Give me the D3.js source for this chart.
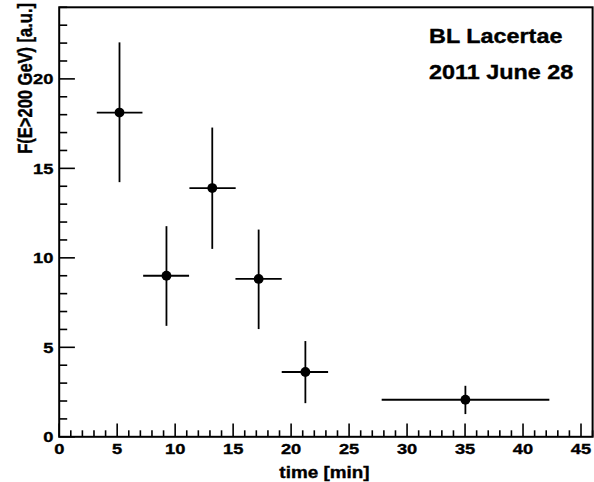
<!DOCTYPE html>
<html><head><meta charset="utf-8">
<script src="https://cdn.jsdelivr.net/npm/d3@7"></script>
<style>
html,body{margin:0;padding:0;background:#fff;}
svg{display:block;}
text{font-family:"Liberation Sans",Arial,Helvetica,sans-serif;font-weight:bold;fill:#000;stroke:#000;stroke-width:0.35px;}
</style></head>
<body>
<svg id="chart" width="594" height="482"></svg>
<script>
// Data
const time     = [5.2, 9.25, 13.2, 17.2, 21.23, 35.03];
const timeLow  = [3.24, 7.24, 11.23, 15.2, 19.19, 27.81];
const timeHigh = [7.18, 11.2, 15.22, 19.19, 23.19, 42.27];
const flux     = [18.12, 9.0, 13.9, 8.82, 3.62, 2.07];
const fluxLow  = [14.23, 6.2, 10.5, 6.02, 1.88, 1.27];
const fluxHigh = [22.04, 11.77, 17.28, 11.58, 5.35, 2.85];
const xTicks = [0, 5, 10, 15, 20, 25, 30, 35, 40, 45];
const yTicks = [0, 5, 10, 15, 20];
const xDomain = [0, 46];
const yDomain = [0, 24];
const titleLines = ["BL Lacertae", "2011 June 28"];
const xTitle = "time [min]";
const yTitle = "F(E>200 GeV) [a.u.]";

const svg = d3.select("#chart");
const L = 59.2, R = 592.6, T = 7.3, B = 436.8;
const SX = 1.18; // horizontal stretch of text in the reference
const x = d3.scaleLinear().domain(xDomain).range([L, R]);
const y = d3.scaleLinear().domain(yDomain).range([B, T]);

// frame
svg.append("rect").attr("x", L).attr("y", T).attr("width", R - L).attr("height", B - T)
  .attr("fill", "none").attr("stroke", "#000").attr("stroke-width", 2);

// x ticks (inside)
const xMinor = d3.range(xDomain[0], xDomain[1] + 0.001, 1);
svg.append("g").selectAll("line").data(xMinor).join("line")
  .attr("x1", d => x(d)).attr("x2", d => x(d))
  .attr("y1", B).attr("y2", d => B - (d % 5 === 0 ? 13.3 : 6.5))
  .attr("stroke", "#000").attr("stroke-width", 1.6);
// y ticks (inside)
const yMinor = d3.range(yDomain[0], yDomain[1] + 0.001, 1);
svg.append("g").selectAll("line").data(yMinor).join("line")
  .attr("y1", d => y(d)).attr("y2", d => y(d))
  .attr("x1", L).attr("x2", d => L + (d % 5 === 0 ? 15.7 : 8))
  .attr("stroke", "#000").attr("stroke-width", 1.6);

// x tick labels
svg.append("g").selectAll("text").data(xTicks).join("text")
  .attr("transform", d => `translate(${x(d)},454.3) scale(${SX},1)`)
  .attr("text-anchor", "middle").attr("font-size", 15.5).text(d => d);
// y tick labels
svg.append("g").selectAll("text").data(yTicks).join("text")
  .attr("transform", d => `translate(53.3,${y(d) + 5.5}) scale(${SX},1)`)
  .attr("text-anchor", "end").attr("font-size", 15.5).text(d => d);

// axis titles
svg.append("text")
  .attr("transform", `translate(369.5,477.5) scale(${SX},1)`)
  .attr("text-anchor", "end").attr("font-size", 16).text(xTitle);
svg.append("text")
  .attr("transform", `translate(31.5,3) scale(${SX},1) rotate(-90)`)
  .attr("text-anchor", "end").attr("font-size", 16.5).text(yTitle);

// error bars
const idx = d3.range(time.length);
const g = svg.append("g");
g.selectAll("line.h").data(idx).join("line").attr("class", "h")
  .attr("x1", i => x(timeLow[i])).attr("x2", i => x(timeHigh[i]))
  .attr("y1", i => y(flux[i])).attr("y2", i => y(flux[i]))
  .attr("stroke", "#000").attr("stroke-width", 1.8);
g.selectAll("line.v").data(idx).join("line").attr("class", "v")
  .attr("x1", i => x(time[i])).attr("x2", i => x(time[i]))
  .attr("y1", i => y(fluxLow[i])).attr("y2", i => y(fluxHigh[i]))
  .attr("stroke", "#000").attr("stroke-width", 1.8);
g.selectAll("circle").data(idx).join("circle")
  .attr("cx", i => x(time[i])).attr("cy", i => y(flux[i])).attr("r", 4.9)
  .attr("fill", "#000");

// title text
svg.append("g").selectAll("text").data(titleLines).join("text")
  .attr("transform", (d, i) => `translate(429,${i === 0 ? 43.3 : 79.3}) scale(1.2,1)`)
  .attr("font-size", 19.5).text(d => d);
</script>
</body></html>
